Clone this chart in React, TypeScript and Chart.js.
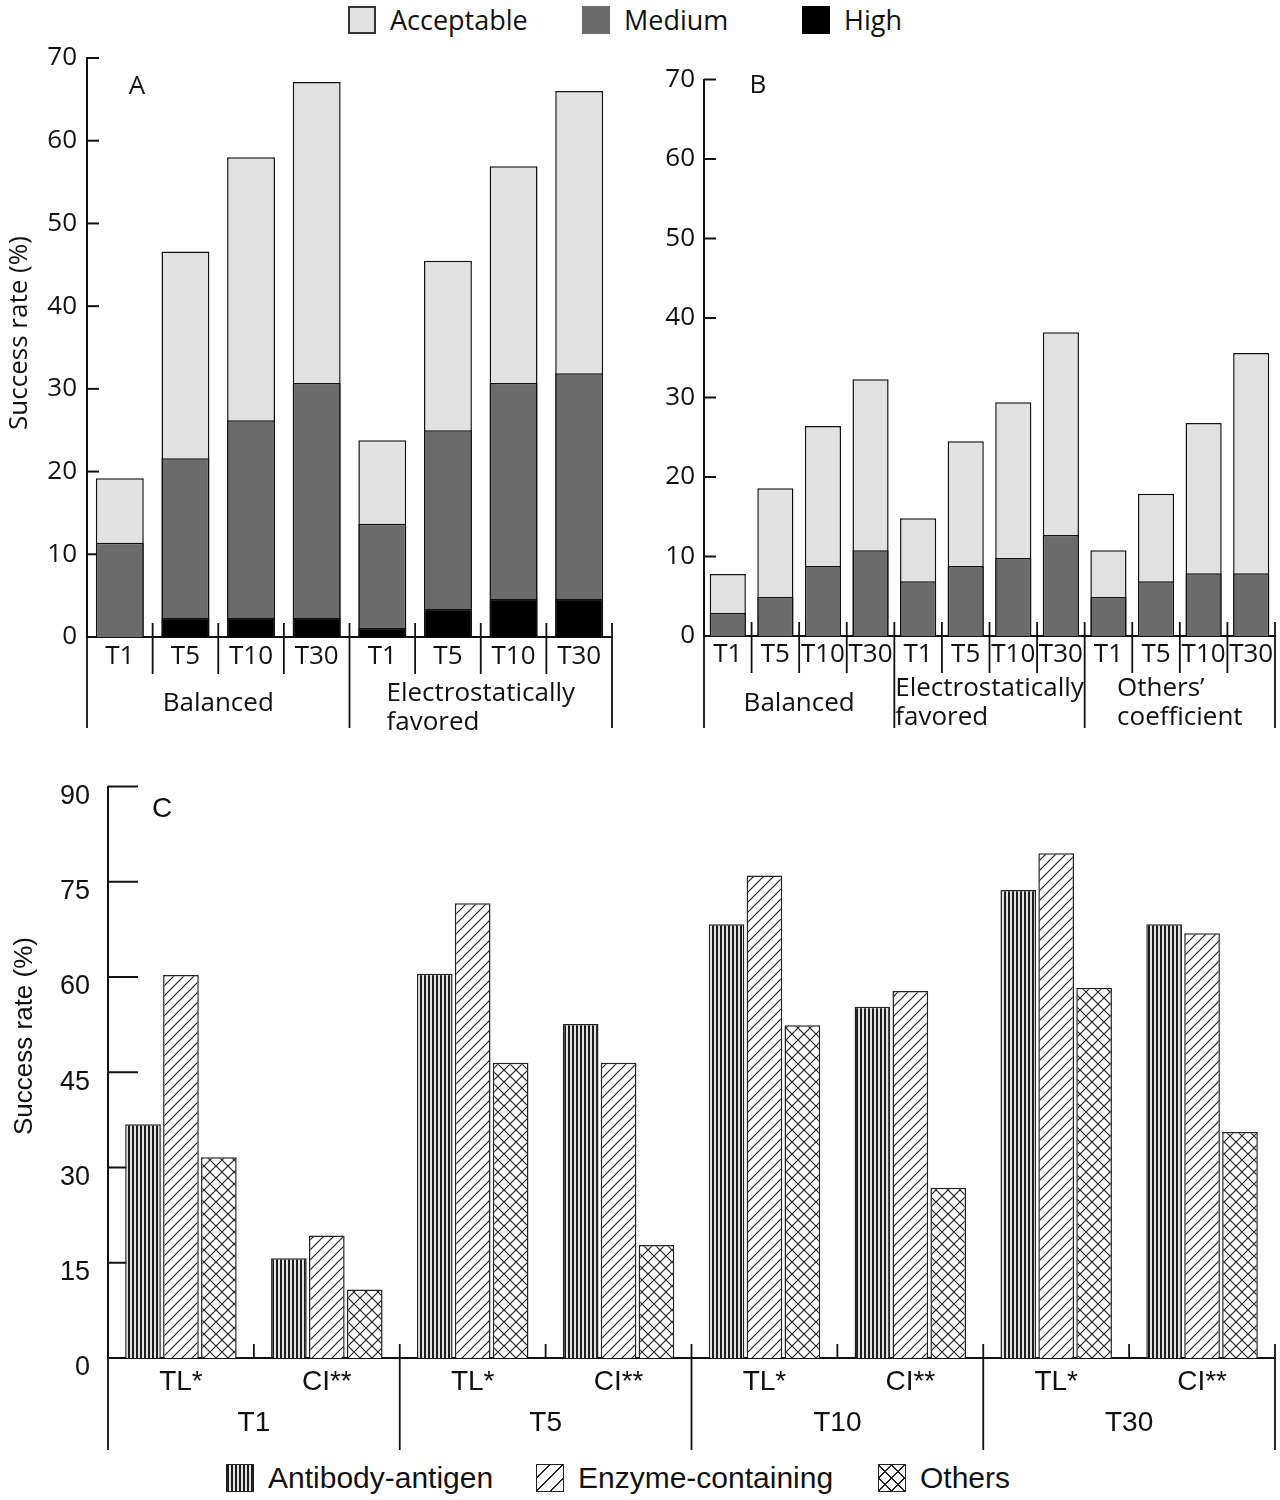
import React, { useEffect, useRef } from 'react';
import { Chart, registerables } from 'chart.js';

Chart.register(...registerables);

const FONT_AB = '"Open Sans", "Noto Sans", sans-serif';
const FONT_C = '"Liberation Sans", Arial, sans-serif';
const INK = '#111111';

// ---------- Panel A ----------
const A_CATEGORIES = ['T1', 'T5', 'T10', 'T30', 'T1', 'T5', 'T10', 'T30'];
const A_GROUPS = [['Balanced'], ['Electrostatically', 'favored']];
const A_GROUP_SPANS = [4, 4];
const A_ACCEPTABLE = [19.2, 46.6, 58.0, 67.1, 23.8, 45.5, 56.9, 66.0];
const A_MEDIUM = [11.4, 21.6, 26.2, 30.7, 13.7, 25.0, 30.7, 31.9];
const A_HIGH = [0, 2.3, 2.3, 2.3, 1.1, 3.4, 4.6, 4.6];

// ---------- Panel B ----------
const B_CATEGORIES = ['T1', 'T5', 'T10', 'T30', 'T1', 'T5', 'T10', 'T30', 'T1', 'T5', 'T10', 'T30'];
const B_GROUPS = [['Balanced'], ['Electrostatically', 'favored'], ['Others\u2019', 'coefficient']];
const B_GROUP_SPANS = [4, 4, 4];
const B_ACCEPTABLE = [7.8, 18.6, 26.4, 32.3, 14.8, 24.5, 29.4, 38.2, 10.8, 17.9, 26.8, 35.6];
const B_MEDIUM = [2.9, 4.9, 8.8, 10.8, 6.9, 8.8, 9.8, 12.7, 4.9, 6.9, 7.9, 7.9];

// ---------- Panel C ----------
const C_CATEGORIES = ['TL*', 'CI**', 'TL*', 'CI**', 'TL*', 'CI**', 'TL*', 'CI**'];
const C_GROUPS = [['T1'], ['T5'], ['T10'], ['T30']];
const C_GROUP_SPANS = [2, 2, 2, 2];
const C_ANTIBODY = [36.8, 15.7, 60.5, 52.6, 68.3, 55.3, 73.7, 68.3];
const C_ENZYME = [60.3, 19.3, 71.6, 46.5, 76.0, 57.8, 79.5, 66.9];
const C_OTHERS = [31.6, 10.8, 46.5, 17.8, 52.4, 26.8, 58.3, 35.6];

const AB_LEGEND = ['Acceptable', 'Medium', 'High'];
const C_LEGEND = ['Antibody-antigen', 'Enzyme-containing', 'Others'];
const Y_TITLE = 'Success rate (%)';

const COL_ACC = '#e1e1e1';
const COL_MED = '#6b6b6b';
const COL_HIGH = '#000000';

function makePattern(kind: string): CanvasPattern | string {
  const c = document.createElement('canvas');
  const ctx = c.getContext('2d');
  if (!ctx) return '#ccc';
  if (kind === 'vertical') {
    c.width = 4; c.height = 4;
    ctx.fillStyle = '#e4e4e4';
    ctx.fillRect(0, 0, 4, 4);
    ctx.fillStyle = '#1c1c1c';
    ctx.fillRect(0, 0, 2, 4);
  } else if (kind === 'diagonal') {
    const s = 10;
    c.width = s; c.height = s;
    ctx.fillStyle = '#ffffff';
    ctx.fillRect(0, 0, s, s);
    ctx.strokeStyle = '#222';
    ctx.lineWidth = 1.2;
    ctx.beginPath();
    ctx.moveTo(-1, s + 1); ctx.lineTo(s + 1, -1);
    ctx.moveTo(-1, 1); ctx.lineTo(1, -1);
    ctx.moveTo(s - 1, s + 1); ctx.lineTo(s + 1, s - 1);
    ctx.stroke();
  } else {
    const s = 12;
    c.width = s; c.height = s;
    ctx.fillStyle = '#ffffff';
    ctx.fillRect(0, 0, s, s);
    ctx.strokeStyle = '#222';
    ctx.lineWidth = 1.2;
    ctx.beginPath();
    ctx.moveTo(-1, -1); ctx.lineTo(s + 1, s + 1);
    ctx.moveTo(-1, s + 1); ctx.lineTo(s + 1, -1);
    ctx.stroke();
  }
  const p = ctx.createPattern(c, 'repeat');
  return p || '#ccc';
}

type DecorCfg = {
  tickLen: number;
  groups: string[][];
  spans: number[];
  sepAbove: number;
  shortBottom: number;
  longBottom: number;
  singleY: number;
  multiY: number;
  lineGap: number;
  groupFont: string;
  title?: { text: string; x: number; y: number; font: string };
  letter: { text: string; x: number; y: number; font: string };
};

function makeDecor(cfg: DecorCfg) {
  return {
    id: 'decor',
    beforeDatasetsDraw(chart: any) {
      const { ctx, chartArea } = chart;
      const y = chart.scales.y;
      ctx.save();
      ctx.strokeStyle = INK;
      ctx.lineWidth = 2;
      y.ticks.forEach((t: any) => {
        const py = y.getPixelForValue(t.value);
        ctx.beginPath();
        ctx.moveTo(chartArea.left, py);
        ctx.lineTo(chartArea.left + cfg.tickLen, py);
        ctx.stroke();
      });
      ctx.restore();
    },
    afterDraw(chart: any) {
      const { ctx, chartArea } = chart;
      const x = chart.scales.x;
      const n = chart.data.labels.length;
      const w = (chartArea.right - chartArea.left) / n;
      const base = chartArea.bottom;
      ctx.save();
      ctx.strokeStyle = INK;
      ctx.lineWidth = 1.8;
      const groupBounds = new Set<number>();
      let acc = 0;
      cfg.spans.forEach((s) => { acc += s; groupBounds.add(acc); });
      for (let i = 0; i <= n; i++) {
        const bx = i < n ? x.getPixelForValue(i) - w / 2 : x.getPixelForValue(n - 1) + w / 2;
        const isGroup = i === 0 || groupBounds.has(i);
        const top = i === 0 ? base : base - cfg.sepAbove;
        const bottom = isGroup ? cfg.longBottom : cfg.shortBottom;
        ctx.beginPath();
        ctx.moveTo(bx, top);
        ctx.lineTo(bx, bottom);
        ctx.stroke();
      }
      ctx.fillStyle = INK;
      ctx.font = cfg.groupFont;
      ctx.textBaseline = 'middle';
      ctx.textAlign = 'left';
      let start = 0;
      cfg.groups.forEach((lines, gi) => {
        const span = cfg.spans[gi];
        const cx = chartArea.left + (start + span / 2) * w;
        const maxW = Math.max(...lines.map((l) => ctx.measureText(l).width));
        const lx = cx - maxW / 2;
        const y0 = lines.length === 1 ? cfg.singleY : cfg.multiY;
        lines.forEach((l, li) => ctx.fillText(l, lx, y0 + li * cfg.lineGap));
        start += span;
      });
      if (cfg.title) {
        ctx.save();
        ctx.translate(cfg.title.x, cfg.title.y);
        ctx.rotate(-Math.PI / 2);
        ctx.textAlign = 'center';
        ctx.textBaseline = 'middle';
        ctx.font = cfg.title.font;
        ctx.fillText(cfg.title.text, 0, 0);
        ctx.restore();
      }
      ctx.textAlign = 'center';
      ctx.textBaseline = 'middle';
      ctx.font = cfg.letter.font;
      ctx.fillText(cfg.letter.text, cfg.letter.x, cfg.letter.y);
      ctx.restore();
    },
  };
}

type PanelProps = {
  left: number; top: number; width: number; height: number;
  build: () => any;
};

function Panel({ left, top, width, height, build }: PanelProps) {
  const ref = useRef<HTMLCanvasElement | null>(null);
  useEffect(() => {
    if (!ref.current) return;
    const chart = new Chart(ref.current, build());
    return () => chart.destroy();
  }, []);
  return (
    <canvas
      ref={ref}
      width={width}
      height={height}
      style={{ position: 'absolute', left, top, width, height, display: 'block' }}
    />
  );
}

function axisOpts(o: {
  font: string; size: number; max: number; step: number; yWidth: number; xHeight: number;
  yPad: number; xPad: number; xSize: number; labelOffset: number;
}) {
  return {
    x: {
      grid: { display: false, drawTicks: false, tickLength: 0 },
      border: { display: true, color: INK, width: 2 },
      ticks: {
        color: INK, font: { family: o.font, size: o.xSize }, padding: o.xPad,
        maxRotation: 0, minRotation: 0, autoSkip: false,
      },
      afterFit: (s: any) => { s.height = o.xHeight; s.paddingLeft = 0; s.paddingRight = 0; },
    },
    y: {
      min: 0, max: o.max,
      grid: { display: false, drawTicks: false, tickLength: 0 },
      border: { display: true, color: INK, width: 2 },
      ticks: {
        stepSize: o.step, color: INK, font: { family: o.font, size: o.size },
        padding: o.yPad, labelOffset: o.labelOffset,
      },
      afterFit: (s: any) => { s.width = o.yWidth; s.paddingTop = 0; s.paddingBottom = 0; },
    },
  };
}

function stackedSet(label: string, data: number[], color: string, order: number, bp: number) {
  return {
    label, data, backgroundColor: color, borderColor: INK, borderWidth: 1.5,
    grouped: false, order, barPercentage: bp, categoryPercentage: 1,
  };
}

function buildA() {
  return {
    type: 'bar',
    data: {
      labels: A_CATEGORIES,
      datasets: [
        stackedSet(AB_LEGEND[2], A_HIGH, COL_HIGH, 1, 0.73),
        stackedSet(AB_LEGEND[1], A_MEDIUM, COL_MED, 2, 0.73),
        stackedSet(AB_LEGEND[0], A_ACCEPTABLE, COL_ACC, 3, 0.73),
      ],
    },
    options: {
      responsive: false, animation: false,
      layout: { padding: { left: 0, right: 28, top: 18, bottom: 0 } },
      plugins: { legend: { display: false }, tooltip: { enabled: false } },
      scales: axisOpts({ font: FONT_AB, size: 26, max: 70, step: 10, yWidth: 87, xHeight: 103, yPad: 10, xPad: 4, xSize: 26, labelOffset: 0 }),
    },
    plugins: [makeDecor({
      tickLen: 12, groups: A_GROUPS, spans: A_GROUP_SPANS, sepAbove: 14,
      shortBottom: 634, longBottom: 688, singleY: 664, multiY: 654, lineGap: 29,
      groupFont: `26px ${FONT_AB}`,
      title: { text: Y_TITLE, x: 20, y: 293, font: `26px ${FONT_AB}` },
      letter: { text: 'A', x: 137, y: 47, font: `26px ${FONT_AB}` },
    })],
  };
}

function buildB() {
  return {
    type: 'bar',
    data: {
      labels: B_CATEGORIES,
      datasets: [
        stackedSet(AB_LEGEND[1], B_MEDIUM, COL_MED, 2, 0.76),
        stackedSet(AB_LEGEND[0], B_ACCEPTABLE, COL_ACC, 3, 0.76),
      ],
    },
    options: {
      responsive: false, animation: false,
      layout: { padding: { left: 0, right: 5, top: 19.5, bottom: 0 } },
      plugins: { legend: { display: false }, tooltip: { enabled: false } },
      scales: axisOpts({ font: FONT_AB, size: 26, max: 70, step: 10, yWidth: 64, xHeight: 114, yPad: 9, xPad: 3, xSize: 26, labelOffset: 0 }),
    },
    plugins: [makeDecor({
      tickLen: 12, groups: B_GROUPS, spans: B_GROUP_SPANS, sepAbove: 14,
      shortBottom: 613, longBottom: 668, singleY: 644, multiY: 629, lineGap: 29,
      groupFont: `26px ${FONT_AB}`,
      letter: { text: 'B', x: 118, y: 26, font: `26px ${FONT_AB}` },
    })],
  };
}

function buildC() {
  const mk = (label: string, data: number[], kind: string) => ({
    label, data, backgroundColor: makePattern(kind), borderColor: '#222', borderWidth: 1.5,
    barPercentage: 0.94, categoryPercentage: 0.78,
  });
  return {
    type: 'bar',
    data: {
      labels: C_CATEGORIES,
      datasets: [
        mk(C_LEGEND[0], C_ANTIBODY, 'vertical'),
        mk(C_LEGEND[1], C_ENZYME, 'diagonal'),
        mk(C_LEGEND[2], C_OTHERS, 'cross'),
      ],
    },
    options: {
      responsive: false, animation: false,
      layout: { padding: { left: 0, right: 5, top: 16.5, bottom: 0 } },
      plugins: { legend: { display: false }, tooltip: { enabled: false } },
      scales: axisOpts({ font: FONT_C, size: 27, max: 90, step: 15, yWidth: 108, xHeight: 102, yPad: 18, xPad: 7, xSize: 28, labelOffset: 10 }),
    },
    plugins: [makeDecor({
      tickLen: 30, groups: C_GROUPS, spans: C_GROUP_SPANS, sepAbove: 14,
      shortBottom: 588, longBottom: 680, singleY: 653, multiY: 653, lineGap: 30,
      groupFont: `28px ${FONT_C}`,
      title: { text: Y_TITLE, x: 25, y: 266, font: `26px ${FONT_C}` },
      letter: { text: 'C', x: 162, y: 39, font: `28px ${FONT_C}` },
    })],
  };
}

const TOP_LEGEND_STYLE = [
  { background: COL_ACC, border: '2px solid #333' },
  { background: COL_MED, border: '2px solid ' + COL_MED },
  { background: COL_HIGH, border: '2px solid #000' },
];
const TOP_LEGEND_X = [348, 582, 802];

const C_LEGEND_STYLE = [
  { background: 'repeating-linear-gradient(90deg, #1c1c1c 0 2px, #e4e4e4 2px 4px)' },
  { background: 'repeating-linear-gradient(135deg, #fff 0 8px, #222 8px 9.5px)' },
  {
    background:
      'repeating-linear-gradient(45deg, transparent 0 8px, #222 8px 9.3px), repeating-linear-gradient(135deg, #fff 0 8px, #222 8px 9.3px)',
  },
];
const C_LEGEND_X = [226, 536, 878];

function LegendItem({ x, y, label, boxStyle, font, size }: any) {
  return (
    <div style={{ position: 'absolute', left: x, top: y, height: 28, display: 'flex', alignItems: 'center', whiteSpace: 'nowrap' }}>
      <div style={{ width: 28, height: 28, boxSizing: 'border-box', border: '1.5px solid #222', ...boxStyle }} />
      <span style={{ marginLeft: 14, fontFamily: font, fontSize: size, lineHeight: '28px', color: INK }}>{label}</span>
    </div>
  );
}

export default function App() {
  return (
    <div style={{ position: 'absolute', left: 0, top: 0, width: 1280, height: 1500, background: '#fff', overflow: 'hidden' }}>
      {AB_LEGEND.map((l, i) => (
        <LegendItem key={l} x={TOP_LEGEND_X[i]} y={6} label={l} boxStyle={TOP_LEGEND_STYLE[i]} font={FONT_AB} size={27} />
      ))}
      <Panel left={0} top={40} width={640} height={700} build={buildA} />
      <Panel left={640} top={60} width={640} height={690} build={buildB} />
      <Panel left={0} top={770} width={1280} height={690} build={buildC} />
      {C_LEGEND.map((l, i) => (
        <LegendItem key={l} x={C_LEGEND_X[i]} y={1464} label={l} boxStyle={C_LEGEND_STYLE[i]} font={FONT_C} size={30} />
      ))}
    </div>
  );
}
